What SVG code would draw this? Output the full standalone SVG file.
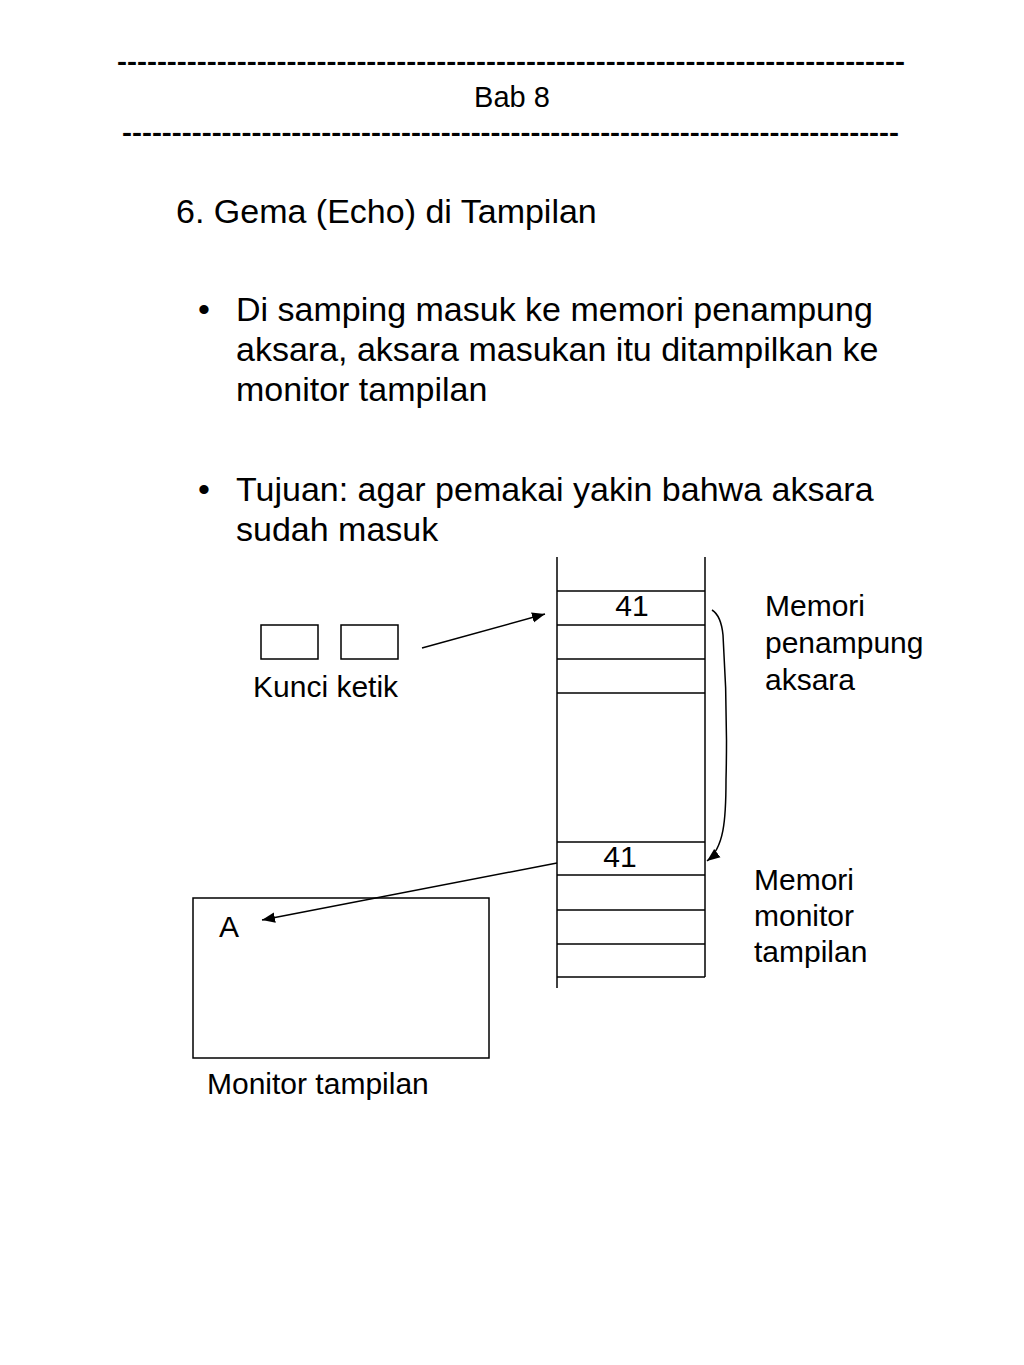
<svg xmlns="http://www.w3.org/2000/svg" width="1024" height="1365" viewBox="0 0 1024 1365">
<defs>
<style>
text{font-family:"Liberation Sans",Arial,sans-serif;fill:#000}
.big{font-size:34px}
.lbl{font-size:30px}
.ln{stroke:#000;stroke-width:1.5;fill:none}
.box{stroke:#000;stroke-width:1.5;fill:#fff}
</style>
<marker id="ah" viewBox="0 0 10 10" refX="10" refY="5" markerWidth="13" markerHeight="13" markerUnits="userSpaceOnUse" orient="auto">
<path d="M0,1 L10,5 L0,9 z" fill="#000"/>
</marker>
</defs>
<rect width="1024" height="1365" fill="#fff"/>
<g id="header">
<text x="117" y="70" font-size="26" font-weight="bold" textLength="788" lengthAdjust="spacingAndGlyphs">-------------------------------------------------------------------------------</text>
<text x="512" y="107" font-size="29" text-anchor="middle">Bab 8</text>
<text x="122" y="141" font-size="26" font-weight="bold" textLength="777" lengthAdjust="spacingAndGlyphs">------------------------------------------------------------------------------</text>
</g>
<g id="body">
<text class="big" x="176" y="223">6. Gema (Echo) di Tampilan</text>
<text class="big" x="198" y="321">•</text>
<text class="big" x="236" y="321">Di samping masuk ke memori penampung</text>
<text class="big" x="236" y="361">aksara, aksara masukan itu ditampilkan ke</text>
<text class="big" x="236" y="401">monitor tampilan</text>
<text class="big" x="198" y="501">•</text>
<text class="big" x="236" y="501">Tujuan: agar pemakai yakin bahwa aksara</text>
<text class="big" x="236" y="541">sudah masuk</text>
</g>
<g id="memory">
<line class="ln" x1="557" y1="557" x2="557" y2="988"/>
<line class="ln" x1="705" y1="557" x2="705" y2="977"/>
<line class="ln" x1="557" y1="591" x2="705" y2="591"/>
<line class="ln" x1="557" y1="625" x2="705" y2="625"/>
<line class="ln" x1="557" y1="659" x2="705" y2="659"/>
<line class="ln" x1="557" y1="693" x2="705" y2="693"/>
<line class="ln" x1="557" y1="842" x2="705" y2="842"/>
<line class="ln" x1="557" y1="875" x2="705" y2="875"/>
<line class="ln" x1="557" y1="910" x2="705" y2="910"/>
<line class="ln" x1="557" y1="944" x2="705" y2="944"/>
<line class="ln" x1="557" y1="977" x2="705" y2="977"/>
<text class="lbl" x="632" y="616" text-anchor="middle">41</text>
<text class="lbl" x="620" y="867" text-anchor="middle">41</text>
</g>
<g id="keys">
<rect class="box" x="261" y="625" width="57" height="34"/>
<rect class="box" x="341" y="625" width="57" height="34"/>
<text class="lbl" x="253" y="697">Kunci ketik</text>
</g>
<g id="monitor">
<rect class="box" x="193" y="898" width="296" height="160"/>
<text class="lbl" x="219" y="937">A</text>
<text class="lbl" x="207" y="1094">Monitor tampilan</text>
</g>
<g id="labels">
<text class="lbl" x="765" y="616">Memori</text>
<text class="lbl" x="765" y="653">penampung</text>
<text class="lbl" x="765" y="690">aksara</text>
<text class="lbl" x="754" y="890">Memori</text>
<text class="lbl" x="754" y="926">monitor</text>
<text class="lbl" x="754" y="962">tampilan</text>
</g>
<g id="connectors">
<line class="ln" x1="422" y1="648" x2="545" y2="614" marker-end="url(#ah)"/>
<line class="ln" x1="557" y1="863" x2="262" y2="920" marker-end="url(#ah)"/>
<path class="ln" d="M712,610 C720,615 722,625 723,635 C726,680 727,740 726,780 C726,820 724,848 707,861" marker-end="url(#ah)"/>
</g>
</svg>
